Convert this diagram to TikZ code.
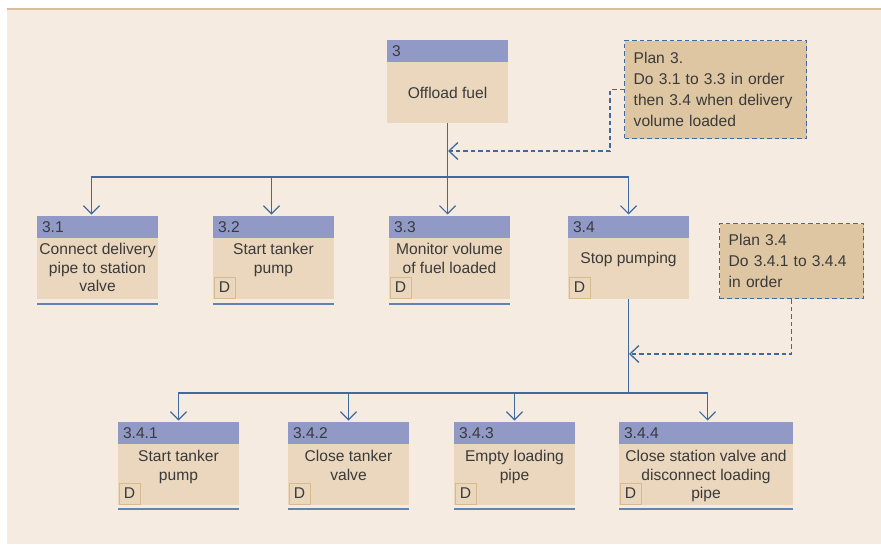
\documentclass[tikz,border=0pt]{standalone}
\usepackage{fontspec}
\setmainfont{Liberation Sans}
\usepackage{tikz}
\usetikzlibrary{positioning}
\usetikzlibrary{arrows.meta}
\usetikzlibrary{backgrounds}
\definecolor{pagetan}{HTML}{F5EBE0}
\definecolor{edgetan}{HTML}{D6BE9C}
\definecolor{headblue}{HTML}{9199C7}
\definecolor{bodytan}{HTML}{EAD7BD}
\definecolor{plantan}{HTML}{DFC6A2}
\definecolor{dtan}{HTML}{D8BA90}
\definecolor{linkblue}{HTML}{3F6AA0}
\definecolor{ruleblue}{HTML}{6384B0}
\definecolor{inkgray}{HTML}{3A3A3A}
\tikzstyle{head}=[rectangle, fill=headblue, text=inkgray, anchor=north west, minimum height=22pt, text width=111pt, inner xsep=5pt, inner ysep=0pt, outer sep=0pt, align=left]
\tikzstyle{body}=[rectangle, fill=bodytan, minimum width=121pt, minimum height=61pt, inner sep=0pt, outer sep=0pt]
\tikzstyle{tasklabel}=[text=inkgray, align=center, inner sep=0pt]
\tikzstyle{dbox}=[rectangle, draw=dtan, line width=0.9pt, fill=bodytan, minimum size=21pt, inner sep=0pt, anchor=south west, text=inkgray]
\tikzstyle{taskrule}=[draw=ruleblue, line width=2pt]
\tikzstyle{link}=[draw=linkblue, line width=1.2pt]
\tikzstyle{linkarrow}=[link, -{Straight Barb[length=8pt, width=16pt]}, shorten >=1.5pt]
\tikzstyle{plan}=[rectangle, draw=linkblue, line width=1.4pt, dash pattern=on 4.5pt off 3pt, fill=plantan, text=inkgray, align=left, anchor=north west, inner xsep=9pt, inner ysep=0pt, font=\fontsize{15.6}{21}\selectfont]
\tikzstyle{planlink}=[draw=linkblue, line width=1.3pt, dash pattern=on 4.5pt off 3pt, -{Straight Barb[length=9pt, width=17pt]}]

\begin{document}
\begin{tikzpicture}[x=1pt, y=-1pt, font=\fontsize{15.6}{18.5}\selectfont]
    \useasboundingbox (0,0) rectangle (881,544);
    \begin{pgfonlayer}{background}
        \fill[pagetan] (7,9) rectangle (881,544);
        \draw[edgetan, line width=1.2pt] (7,9) -- (881,9);
    \end{pgfonlayer}
    % top task
    \node[head] (h3) at (387,40) {3};
    \node[body, below=0pt of h3] (b3) {};
    \node[tasklabel, below=25pt of h3.south] (l3) {Offload fuel};
    \node[plan, text width=164pt, minimum height=98pt] (p3) at (624,40) {Plan 3.\\Do 3.1 to 3.3 in order\\then 3.4 when delivery\\volume loaded};
    % first level
    \node[head] (h31) at (37,216) {3.1};
    \node[body, below=0pt of h31] (b31) {};
    \node[tasklabel, below=5pt of h31.south] (l31) {Connect delivery\\pipe to station\\valve};
    \node[head] (h32) at (213,216) {3.2};
    \node[body, below=0pt of h32] (b32) {};
    \node[tasklabel, below=5pt of h32.south] (l32) {Start tanker\\pump};
    \node[dbox, xshift=0.5pt, yshift=0.5pt] (d32) at (b32.south west) {D};
    \node[head] (h33) at (389,216) {3.3};
    \node[body, below=0pt of h33] (b33) {};
    \node[tasklabel, below=5pt of h33.south] (l33) {Monitor volume\\of fuel loaded};
    \node[dbox, xshift=0.5pt, yshift=0.5pt] (d33) at (b33.south west) {D};
    \node[head] (h34) at (568,216) {3.4};
    \node[body, below=0pt of h34] (b34) {};
    \node[tasklabel, below=14pt of h34.south] (l34) {Stop pumping};
    \node[dbox, xshift=0.5pt, yshift=0.5pt] (d34) at (b34.south west) {D};
    \node[plan, text width=126pt, minimum height=75pt] (p34) at (719,223) {Plan 3.4\\Do 3.4.1 to 3.4.4\\in order};
    % second level
    \node[head] (h341) at (118,422) {3.4.1};
    \node[body, below=0pt of h341] (b341) {};
    \node[tasklabel, below=6pt of h341.south] (l341) {Start tanker\\pump};
    \node[dbox, xshift=0.5pt, yshift=0.5pt] (d341) at (b341.south west) {D};
    \node[head] (h342) at (288,422) {3.4.2};
    \node[body, below=0pt of h342] (b342) {};
    \node[tasklabel, below=6pt of h342.south] (l342) {Close tanker\\valve};
    \node[dbox, xshift=0.5pt, yshift=0.5pt] (d342) at (b342.south west) {D};
    \node[head] (h343) at (454,422) {3.4.3};
    \node[body, below=0pt of h343] (b343) {};
    \node[tasklabel, below=6pt of h343.south] (l343) {Empty loading\\pipe};
    \node[dbox, xshift=0.5pt, yshift=0.5pt] (d343) at (b343.south west) {D};
    \node[head, text width=164pt] (h344) at (619,422) {3.4.4};
    \node[body, minimum width=174pt, below=0pt of h344] (b344) {};
    \node[tasklabel, below=6pt of h344.south] (l344) {Close station valve and\\disconnect loading\\pipe};
    \node[dbox, xshift=0.5pt, yshift=0.5pt] (d344) at (b344.south west) {D};
    % rules under the boxes
    \foreach \b/\d in {b31/5, b32/5, b33/5, b341/4, b342/4, b343/4, b344/4}
        \draw[taskrule] ([yshift=-\d pt]\b.south west) -- ([yshift=-\d pt]\b.south east);
    % tree
    \coordinate (j1) at (447.5,177);
    \coordinate (j2) at (628.5,393);
    \draw[link] (b3.south) -- (j1);
    \draw[linkarrow] (j1) -| ([xshift=-6pt]h31.north);
    \draw[linkarrow] (j1) -| ([xshift=-2pt]h32.north);
    \draw[linkarrow] (j1) -| ([xshift=-2pt]h33.north);
    \draw[linkarrow] (j1) -| (h34.north);
    \draw[link] (b34.south) -- (j2);
    \draw[linkarrow] (j2) -| (h341.north);
    \draw[linkarrow] (j2) -| (h342.north);
    \draw[linkarrow] (j2) -| (h343.north);
    \draw[linkarrow] (j2) -| ([xshift=1.5pt]h344.north);
    % plans
    \coordinate (k1) at (448,151);
    \coordinate (k2) at (629,354);
    \draw[planlink] (p3.west) -- ++(-14,0) |- (k1);
    \draw[planlink] (p34.south) |- (k2);
\end{tikzpicture}
\end{document}
